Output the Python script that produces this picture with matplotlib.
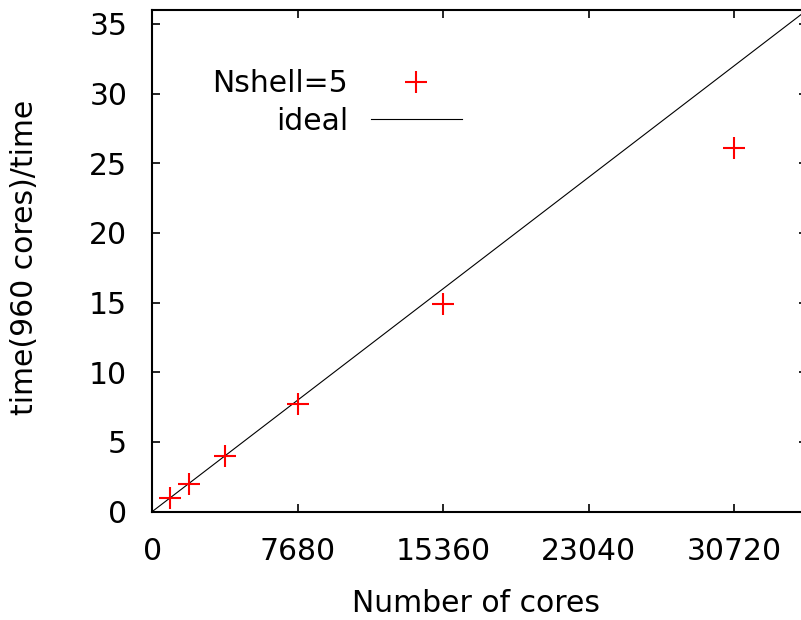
import matplotlib
matplotlib.use("Agg")
import matplotlib.pyplot as plt
import numpy as np

plt.rcParams['font.family'] = ['DejaVu Sans']
FS = 21.5

# Strong scaling measurements (Nshell=5), speed-up relative to 960 cores
cores = [960, 1920, 3840, 7680, 15360, 30720]
speedup = [1.0, 2.0, 4.0, 7.7, 14.9, 26.1]

# Ideal linear scaling reference
base_cores = 960
ideal_cores = np.array([0, 34560])
ideal_speedup = ideal_cores / base_cores

xticks = [0, 7680, 15360, 23040, 30720]
yticks = [0, 5, 10, 15, 20, 25, 30, 35]

W, H = 801, 620
fig = plt.figure(figsize=(W / 100, H / 100), dpi=100)
left, right, bottom, top = 152.3, 807.0, 511.5, 10.0
ax = fig.add_axes([left / W, 1 - bottom / H, (right - left) / W, (bottom - top) / H])

ax.plot(cores, speedup, linestyle='none', marker='+', markersize=16,
        markeredgewidth=1.5, color='#ff0000', label='Nshell=5', zorder=3)
ax.plot(ideal_cores, ideal_speedup, color='black', linewidth=0.8,
        label='ideal', zorder=2)

ax.set_xlim(0, 34560)
ax.set_ylim(0, 36)
ax.set_xticks(xticks)
ax.set_xticklabels([str(v) for v in xticks])
ax.set_yticks(yticks)
ax.set_yticklabels([str(v) for v in yticks])

ax.tick_params(direction='in', length=6, width=1.2, labelsize=FS, pad=18,
               top=True, right=True)
for s in ax.spines.values():
    s.set_linewidth(1.5)

ax.set_xlabel('Number of cores', fontsize=FS)
ax.xaxis.set_label_coords(476 / W, 1 - 604 / H, transform=fig.transFigure)
ax.xaxis.label.set_va('center')
ax.set_ylabel('time(960 cores)/time', fontsize=FS)
ax.yaxis.set_label_coords(25 / W, 1 - 257 / H, transform=fig.transFigure)
ax.yaxis.label.set_va('center')

leg = ax.legend(loc='center', bbox_to_anchor=(337 / W, 1 - 102.5 / H),
                bbox_transform=fig.transFigure, frameon=False, markerfirst=False,
                fontsize=FS, handlelength=3.05, handletextpad=0.77,
                labelspacing=0.28, borderpad=0, numpoints=1)

fig.savefig('out.png', dpi=100)
